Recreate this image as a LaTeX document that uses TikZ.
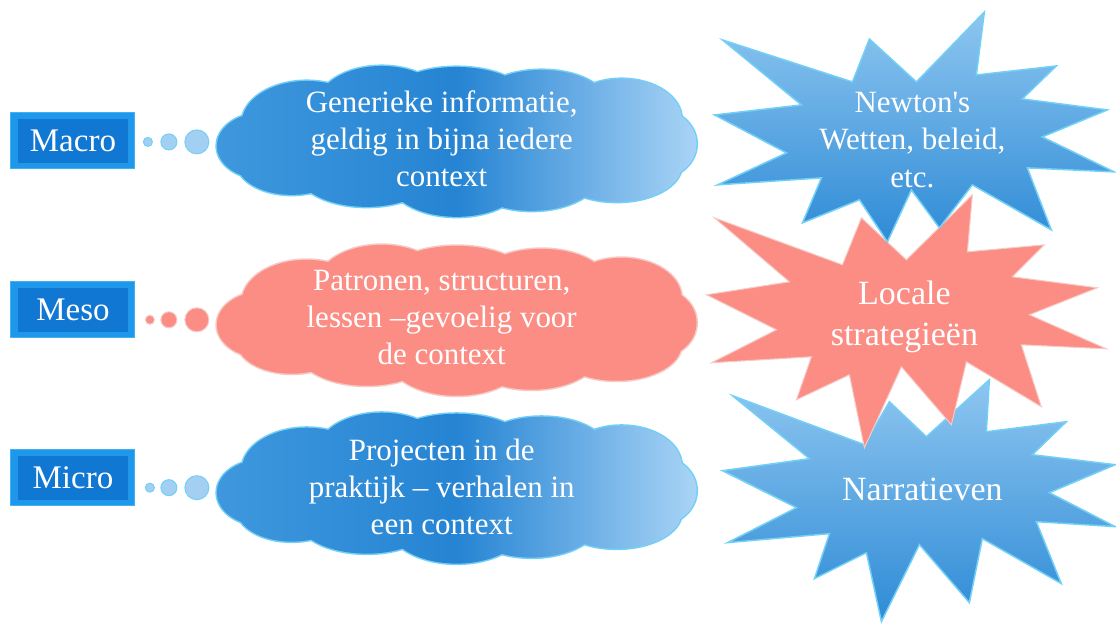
\documentclass[tikz,border=0pt]{standalone}
\usepackage{fontspec}
\setmainfont{Liberation Serif}
\usetikzlibrary{backgrounds}
\definecolor{linkblue}{HTML}{0B4F8E}
\definecolor{boxlight}{HTML}{1F98EC}
\definecolor{boxdark}{HTML}{1077D2}
\definecolor{boxedge}{HTML}{3FB3F2}
\definecolor{cloudA}{HTML}{3F98DD}
\definecolor{cloudB}{HTML}{2584D3}
\definecolor{cloudC}{HTML}{A9D4F6}
\definecolor{skyedge}{HTML}{72D0F7}
\definecolor{startop}{HTML}{8EC6F0}
\definecolor{starbot}{HTML}{2E8BD6}
\definecolor{salmon}{HTML}{FB8D84}
\definecolor{salmonedge}{HTML}{F6C9C4}
\definecolor{bubblue}{HTML}{A3CFF3}
\newcommand{\fsz}[1]{\fontsize{#1}{1.2\dimexpr#1pt\relax}\selectfont}
% puffs of a cloud, round its centre
\newcommand{\puffpath}{(-195,5) ellipse [x radius=45,y radius=33]
  (-150,-18) ellipse [x radius=65,y radius=42] (-75,-35) ellipse [x radius=65,y radius=40]
  (0,-42) ellipse [x radius=70,y radius=32] (85,-38) ellipse [x radius=65,y radius=33]
  (165,-22) ellipse [x radius=60,y radius=40] (200,3) ellipse [x radius=40,y radius=35]
  (160,25) ellipse [x radius=65,y radius=36] (75,30) ellipse [x radius=70,y radius=40]
  (0,35) ellipse [x radius=70,y radius=41] (-90,30) ellipse [x radius=70,y radius=36]
  (-165,22) ellipse [x radius=55,y radius=32] (0,0) ellipse [x radius=190,y radius=55]}
\newcommand{\puffcloud}[3]{%
  \draw[shift={(#1)},draw=#2,line width=3pt] \puffpath;
  \path[shift={(#1)},#3] \puffpath;}

\begin{document}
\begin{tikzpicture}[x=1pt,y=-1pt,
  levelbox/.style={rectangle,minimum width=124pt,minimum height=56pt,inner sep=0pt,
    fill=boxlight,draw=boxedge,line width=1pt,text=white,font=\fsz{33},
    path picture={\fill[boxdark] ([shift={(7pt,-6pt)}]path picture bounding box.north west)
      rectangle ([shift={(-7pt,6pt)}]path picture bounding box.south east);}},
  cloudspot/.style={minimum width=480pt,minimum height=152pt,inner sep=0pt},
  bluefill/.style={left color=cloudA,right color=cloudC,middle color=cloudB},
  pinkfill/.style={fill=salmon},
  bubble/.style={circle,inner sep=0pt,line width=1pt},
  bluebub/.style={bubble,fill=bubblue,draw=skyedge},
  pinkbub/.style={bubble,fill=salmon,draw=salmonedge},
  bluestar/.style={top color=startop,bottom color=starbot,draw=skyedge,line width=1.5pt,line join=miter},
  pinkstar/.style={fill=salmon,draw=salmonedge,line width=1pt,line join=miter},
  textlabel/.style={text=white,align=center,inner sep=0pt},
  linkline/.style={linkblue,line width=3.5pt}]
\path[fill=white] (0,0) rectangle (1116,624);

% left column
\node[levelbox] (macro) at (73,141) {Macro};
\node[levelbox] (meso) at (73,310) {Meso};
\node[levelbox] (micro) at (73,478) {Micro};

% clouds
\node[cloudspot] (macrocloud) at (457,141) {};
\node[cloudspot] (mesocloud) at (457,320) {};
\node[cloudspot] (microcloud) at (457,488) {};
\puffcloud{macrocloud}{skyedge}{bluefill}
\puffcloud{mesocloud}{salmonedge}{pinkfill}
\puffcloud{microcloud}{skyedge}{bluefill}
\node[textlabel,font=\fsz{31}] (macrotext) at (442,139) {Generieke informatie,\\geldig in bijna iedere\\context};
\node[textlabel,font=\fsz{31}] (mesotext) at (442,318) {Patronen, structuren,\\lessen –gevoelig voor\\de context};
\node[textlabel,font=\fsz{31}] (microtext) at (442,487) {Projecten in de\\praktijk – verhalen in\\een context};

% bubbles
\node[bluebub,minimum size=9pt] (macrob1) at (148,142) {};
\node[bluebub,minimum size=16pt] (macrob2) at (169,142) {};
\node[bluebub,minimum size=24pt] (macrob3) at (197,142) {};
\node[pinkbub,minimum size=9pt] (mesob1) at (150,320) {};
\node[pinkbub,minimum size=16pt] (mesob2) at (169,320) {};
\node[pinkbub,minimum size=24pt] (mesob3) at (197,320) {};
\node[bluebub,minimum size=9pt] (microb1) at (150,488) {};
\node[bluebub,minimum size=16pt] (microb2) at (169,488) {};
\node[bluebub,minimum size=24pt] (microb3) at (197,488) {};

% bursts
\coordinate (macrostar) at (913,140);
\coordinate (mesostar) at (905,317);
\coordinate (microstar) at (923,490);
\draw[bluestar] (990,380) -- (987,432) -- (1067,422) -- (1033,455) -- (1116,465) -- (1050,493)
  -- (1116,527) -- (1037,522) -- (1062,584) -- (983,539) -- (970,603) -- (920,545) -- (882,622)
  -- (867,553) -- (815,579) -- (830,534) -- (728,543) -- (797,508) -- (723,471) -- (810,459)
  -- (733,396) -- (865,445) -- (890,402) -- (927,437) -- cycle;
\draw[pinkstar] (973,195) -- (968,252) -- (1045,245) -- (1013,277) -- (1098,288) -- (1030,315)
  -- (1107,349) -- (1022,345) -- (1042,407) -- (967,362) -- (952,425) -- (902,367) -- (865,448)
  -- (850,375) -- (797,400) -- (812,357) -- (712,363) -- (777,330) -- (707,295) -- (790,282)
  -- (715,218) -- (843,265) -- (862,218) -- (907,260) -- cycle;
\draw[bluestar] (985,12) -- (977,75) -- (1057,66) -- (1023,99) -- (1108,110) -- (1043,137)
  -- (1115,172) -- (1028,168) -- (1052,230) -- (973,185) -- (940,228) -- (912,190) -- (888,242)
  -- (860,200) -- (803,223) -- (822,178) -- (718,185) -- (787,153) -- (715,115) -- (802,105)
  -- (723,40) -- (853,82) -- (870,39) -- (917,82) -- cycle;
\node[textlabel,font=\fsz{31}] (macrostartext) at (macrostar) {Newton\textquotesingle s\\Wetten, beleid,\\etc.};
\node[textlabel,font=\fsz{34}] (mesostartext) at (mesostar) {Locale\\strategieën};
\node[textlabel,font=\fsz{34}] (microstartext) at (microstar) {Narratieven};

% connectors
\begin{scope}[on background layer]
\draw[linkline] (macro.east |- macrocloud.center) -- (macrocloud.center -| macrostar);
\draw[linkline] (meso.east |- mesocloud.center) -- (mesocloud.center -| mesostar);
\draw[linkline] (micro.east |- microcloud.center) -- (microcloud.center -| microstar);
\end{scope}
\end{tikzpicture}
\end{document}
